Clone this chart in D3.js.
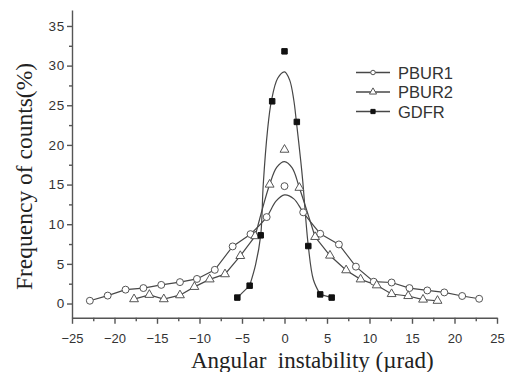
<!DOCTYPE html>
<html>
<head>
<meta charset="utf-8">
<script src="https://cdn.jsdelivr.net/npm/d3@7"></script>
<style>
  body { margin: 0; background: #fff; }
  svg { display: block; }
</style>
</head>
<body>
<script>
// measured points, [angular instability (urad), frequency (%)]
const pbur1 = [
  [-22.9, 0.35], [-20.8, 1.0], [-18.7, 1.75], [-16.6, 1.95], [-14.5, 2.35],
  [-12.3, 2.7], [-10.3, 3.1], [-8.2, 4.25], [-6.1, 7.2], [-4.0, 8.75],
  [-2.1, 10.9], [0, 14.8], [2.2, 11.5], [4.2, 8.8], [6.4, 7.45],
  [8.4, 4.65], [10.5, 2.75], [12.6, 2.65], [14.7, 1.95], [16.8, 1.65],
  [18.8, 1.4], [20.9, 0.95], [22.9, 0.6]
];
const pbur2 = [
  [-17.7, 0.55], [-15.9, 1.1], [-14.2, 0.55], [-12.3, 1.05], [-10.6, 2.1],
  [-8.8, 3.05], [-7.0, 3.7], [-5.2, 6.0], [-3.45, 8.5], [-1.75, 15.0],
  [0, 19.4], [1.75, 14.6], [3.6, 8.4], [5.35, 6.05], [7.25, 4.2],
  [8.95, 3.05], [10.85, 2.3], [12.6, 1.2], [14.55, 0.95], [16.3, 0.5],
  [18.0, 0.35]
];
const gdfr = [
  [-5.55, 0.75], [-4.1, 2.25], [-2.8, 8.6], [-1.45, 25.5], [0, 31.8],
  [1.45, 22.9], [2.8, 7.25], [4.2, 1.15], [5.55, 0.75]
];

// traced lines (tails go through the points, the centre follows the fitted peak)
const pbur1Trace = [
  [-22.9, 0.35], [-20.8, 1.0], [-18.7, 1.75], [-16.6, 1.95], [-14.5, 2.35],
  [-12.3, 2.7], [-10.3, 3.1], [-8.2, 4.25], [-6.1, 7.2], [-4.0, 8.75],
  [-2.1, 10.9], [-1.0, 12.9], [0, 13.7], [1.1, 13.2], [2.2, 11.5], [4.2, 8.8],
  [6.4, 7.45], [8.4, 4.65], [10.5, 2.75], [12.6, 2.65], [14.7, 1.95],
  [16.8, 1.65], [18.8, 1.4], [20.9, 0.95], [22.9, 0.6]
];
const pbur2Trace = [
  [-17.7, 0.55], [-15.9, 1.1], [-14.2, 0.55], [-12.3, 1.05], [-10.6, 2.1],
  [-8.8, 3.05], [-7.0, 3.7], [-5.2, 6.0], [-3.45, 8.5], [-1.75, 15.0],
  [-0.9, 17.2], [0, 17.9], [0.9, 17.1], [1.75, 14.6], [3.6, 8.4],
  [5.35, 6.05], [7.25, 4.2], [8.95, 3.05], [10.85, 2.3], [12.6, 1.2],
  [14.55, 0.95], [16.3, 0.5], [18.0, 0.35]
];
const gdfrTrace = [
  [-5.55, 0.75], [-4.1, 2.25], [-3.4, 4.9], [-2.8, 8.6], [-2.5, 15.0],
  [-2.0, 21.8], [-1.55, 25.5], [-0.8, 28.4], [0, 29.2], [0.6, 28.2],
  [1.1, 25.6], [1.4, 22.9], [1.9, 18.1], [2.15, 15.4], [2.8, 7.25],
  [3.4, 3.0], [4.2, 1.15], [5.55, 0.75]
];

const seriesNames = ["PBUR1", "PBUR2", "GDFR"];
const xTicks = [-25, -20, -15, -10, -5, 0, 5, 10, 15, 20, 25];
const yTicks = [0, 5, 10, 15, 20, 25, 30, 35];

var W = 505, H = 372;
var ink = "#474747";

var svg = d3.select("body").append("svg")
  .attr("width", W)
  .attr("height", H);

var x = d3.scaleLinear().domain([-25, 25]).range([72, 497]);
var y = d3.scaleLinear().domain([-1.8, 37]).range([317.8, 10.1]);

// axes
var xAxis = svg.append("g")
  .attr("transform", "translate(0," + y(-1.8) + ")")
  .call(d3.axisBottom(x).tickValues(xTicks).tickSize(6).tickSizeOuter(0).tickPadding(10));
svg.append("g")
  .attr("transform", "translate(0," + y(-1.8) + ")")
  .call(d3.axisBottom(x).tickValues(d3.range(-22.5, 25, 5)).tickSize(3.5).tickFormat(""))
  .call(g => g.select(".domain").remove());

var yAxis = svg.append("g")
  .attr("transform", "translate(" + x(-25) + ",0)")
  .call(d3.axisLeft(y).tickValues(yTicks).tickSize(5).tickSizeOuter(0).tickPadding(2));
svg.append("g")
  .attr("transform", "translate(" + x(-25) + ",0)")
  .call(d3.axisLeft(y).tickValues(d3.range(2.5, 35, 5)).tickSize(3).tickFormat(""))
  .call(g => g.select(".domain").remove());

svg.selectAll(".domain, .tick line")
  .attr("stroke", "#555")
  .attr("stroke-width", 1.4);
xAxis.selectAll("text")
  .attr("font-family", "Liberation Sans, Arial, sans-serif")
  .attr("font-size", "13px")
  .attr("fill", "#333");
yAxis.selectAll("text")
  .attr("font-family", "Liberation Sans, Arial, sans-serif")
  .attr("font-size", "13.5px")
  .attr("letter-spacing", "0.8px")
  .attr("fill", "#333");

// axis titles
svg.append("text")
  .attr("x", 191)
  .attr("y", 368)
  .style("white-space", "pre")
  .attr("font-family", "Liberation Serif, Times New Roman, serif")
  .attr("font-size", "23px")
  .attr("fill", "#222")
  .text("Angular  instability (\u00b5rad)");

svg.append("text")
  .attr("transform", "translate(31.5,176.5) rotate(-90)")
  .attr("text-anchor", "middle")
  .attr("font-family", "Liberation Serif, Times New Roman, serif")
  .attr("font-size", "23.5px")
  .attr("fill", "#222")
  .text("Frequency of counts(%)");

// lines: straight tails, smooth centre
var straight = d3.line().x(d => x(d[0])).y(d => y(d[1]));
var smooth = d3.line().x(d => x(d[0])).y(d => y(d[1])).curve(d3.curveCatmullRom.alpha(0.5));

function drawTrace(trace) {
  var core = trace.filter(d => Math.abs(d[0]) <= 4.5);
  var left = trace.filter(d => d[0] <= core[0][0]);
  var right = trace.filter(d => d[0] >= core[core.length - 1][0]);
  [left, right].forEach(function (part) {
    svg.append("path")
      .attr("d", straight(part))
      .attr("fill", "none")
      .attr("stroke", ink)
      .attr("stroke-width", 1.2);
  });
  svg.append("path")
    .attr("d", smooth(core))
    .attr("fill", "none")
    .attr("stroke", ink)
    .attr("stroke-width", 1.2);
}
drawTrace(pbur1Trace);
drawTrace(pbur2Trace);
drawTrace(gdfrTrace);

// markers
var shapes = [
  { type: d3.symbolCircle, size: 38, fill: "#fff", stroke: "#555" },
  { type: d3.symbolTriangle, size: 34, fill: "#fff", stroke: "#555" },
  { type: d3.symbolSquare, size: 30, fill: "#111", stroke: "#111" }
];
[pbur1, pbur2, gdfr].forEach(function (pts, i) {
  svg.selectAll(".m" + i)
    .data(pts)
    .enter()
    .append("path")
    .attr("transform", d => "translate(" + x(d[0]) + "," + y(d[1]) + ")")
    .attr("d", d3.symbol().type(shapes[i].type).size(shapes[i].size))
    .attr("fill", shapes[i].fill)
    .attr("stroke", shapes[i].stroke)
    .attr("stroke-width", 1);
});

// legend
var legend = svg.append("g");
var legendSizes = [16, 22, 18];
seriesNames.forEach(function (name, i) {
  var cy = 72.5 + i * 19.5;
  legend.append("line")
    .attr("x1", 356).attr("x2", 390)
    .attr("y1", cy).attr("y2", cy)
    .attr("stroke", ink)
    .attr("stroke-width", 1.3);
  legend.append("path")
    .attr("transform", "translate(373," + cy + ")")
    .attr("d", d3.symbol().type(shapes[i].type).size(legendSizes[i]))
    .attr("fill", shapes[i].fill)
    .attr("stroke", shapes[i].stroke)
    .attr("stroke-width", 1);
  legend.append("text")
    .attr("x", 398)
    .attr("y", cy + 6)
    .attr("font-family", "Liberation Sans, Arial, sans-serif")
    .attr("font-size", "16.5px")
    .attr("fill", "#333")
    .text(name);
});
</script>
</body>
</html>
